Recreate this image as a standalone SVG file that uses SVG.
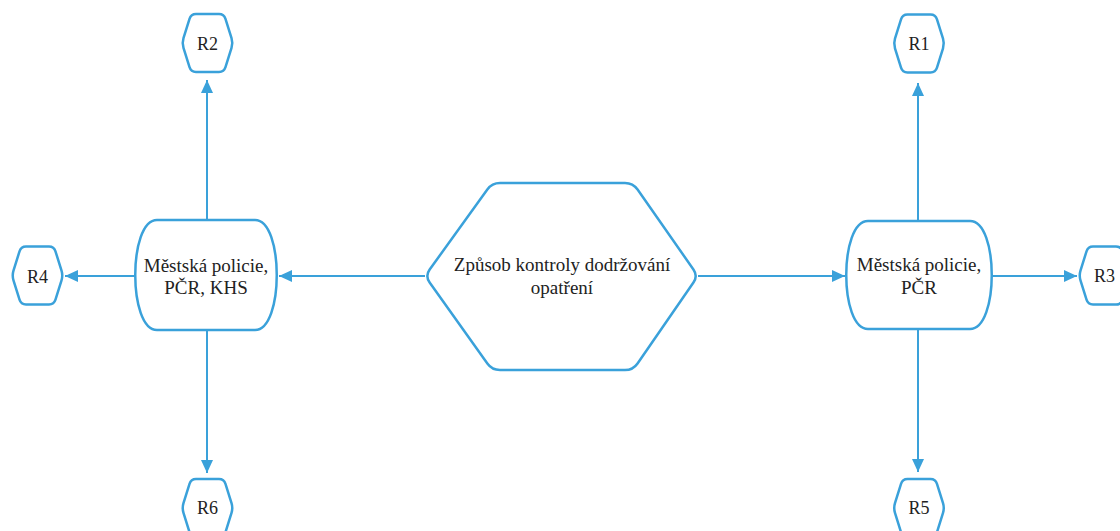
<svg xmlns="http://www.w3.org/2000/svg" xmlns:xlink="http://www.w3.org/1999/xlink" width="1120" height="531" viewBox="0 0 1120 531">
<style>
.shape{fill:#ffffff;stroke:#3aa1da;stroke-width:2.5;stroke-linejoin:round}
.conn{fill:none;stroke:#3aa1da;stroke-width:2}
.lbl{font-family:"Liberation Serif","Times New Roman",serif;font-size:19px;fill:#222222;text-anchor:middle}
.rl{font-family:"Liberation Serif","Times New Roman",serif;font-size:18px;fill:#222222;text-anchor:middle}
</style>
<defs>
<marker id="arr" markerUnits="userSpaceOnUse" markerWidth="14" markerHeight="12" refX="13" refY="6" orient="auto">
<path d="M0,0 L13,6 L0,12 Z" fill="#3aa1da"/>
</marker>
<path id="hex" d="M -24.02,-4.77 L -17.98,-24.23 Q -16.5,-29 -11.5,-29 L 11.5,-29 Q 16.5,-29 17.98,-24.23 L 24.02,-4.77 Q 25.5,0 24.02,4.77 L 17.98,24.23 Q 16.5,29 11.5,29 L -11.5,29 Q -16.5,29 -17.98,24.23 L -24.02,4.77 Q -25.5,0 -24.02,-4.77 Z"/>
</defs>
<rect width="1120" height="531" fill="#ffffff"/>
<g id="connectors">
<path class="conn" d="M425,276 L279,276" marker-end="url(#arr)"/>
<path class="conn" d="M698,276 L845,276" marker-end="url(#arr)"/>
<path class="conn" d="M207,220 L207,80" marker-end="url(#arr)"/>
<path class="conn" d="M136,276 L65,276" marker-end="url(#arr)"/>
<path class="conn" d="M207,330 L207,473" marker-end="url(#arr)"/>
<path class="conn" d="M918,221 L918,83" marker-end="url(#arr)"/>
<path class="conn" d="M991,276 L1077,276" marker-end="url(#arr)"/>
<path class="conn" d="M918,329 L918,472" marker-end="url(#arr)"/>
</g>
<g id="center">
<path class="shape" d="M429.68,269.51 L487.32,189.49 Q492,183 500,183 L625,183 Q633,183 637.58,189.56 L693.42,269.44 Q698,276 693.45,282.58 L637.55,363.42 Q633,370 625,370 L500,370 Q492,370 487.35,363.48 L429.65,282.52 Q425,276 429.68,269.51 Z"/>
<text class="lbl" x="562" y="271">Způsob kontroly dodržování</text>
<text class="lbl" x="562" y="294">opatření</text>
</g>
<g id="left-node">
<path class="shape" d="M157,220 H255 C284,220 284,330 255,330 H157 C128,330 128,220 157,220 Z"/>
<text class="lbl" x="206" y="272">Městská policie,</text>
<text class="lbl" x="206" y="294">PČR, KHS</text>
</g>
<g id="right-node">
<path class="shape" d="M868,221 H970 C999,221 999,329 970,329 H868 C839,329 839,221 868,221 Z"/>
<text class="lbl" x="919" y="271">Městská policie,</text>
<text class="lbl" x="919" y="294">PČR</text>
</g>
<g id="R1">
<use xlink:href="#hex" href="#hex" class="shape" transform="translate(919,43.5)"/>
<text class="rl" x="919" y="50">R1</text>
</g>
<g id="R2">
<use xlink:href="#hex" href="#hex" class="shape" transform="translate(207.5,43)"/>
<text class="rl" x="207.5" y="50">R2</text>
</g>
<g id="R3">
<use xlink:href="#hex" href="#hex" class="shape" transform="translate(1104.5,275.5)"/>
<text class="rl" x="1104.5" y="282">R3</text>
</g>
<g id="R4">
<use xlink:href="#hex" href="#hex" class="shape" transform="translate(37.5,275.5)"/>
<text class="rl" x="37.5" y="283">R4</text>
</g>
<g id="R5">
<use xlink:href="#hex" href="#hex" class="shape" transform="translate(919,508)"/>
<text class="rl" x="919" y="514">R5</text>
</g>
<g id="R6">
<use xlink:href="#hex" href="#hex" class="shape" transform="translate(207.5,508)"/>
<text class="rl" x="207.5" y="514">R6</text>
</g>
</svg>
